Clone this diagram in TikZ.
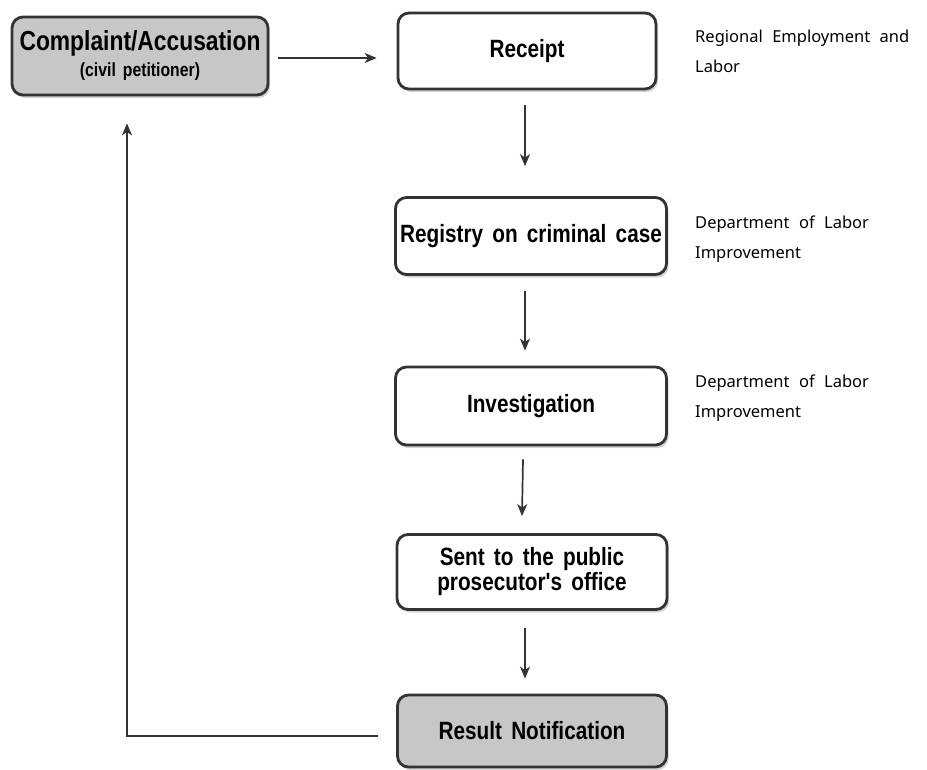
\documentclass[tikz,border=0pt]{standalone}
\usepackage{fontspec}
\setmainfont{Noto Sans}[WordSpace=2.2]
\newfontfamily\boxfont{Liberation Sans}[FakeStretch=0.83, WordSpace=1.6]
\usetikzlibrary{arrows.meta,shadows,positioning}

\begin{document}
\begin{tikzpicture}[x=1pt, y=-1pt,
  every node/.style = {align=center},
  stepbox/.style = {shape=rectangle, rounded corners=11pt, draw=black!80,
    line width=2.8pt, fill=white, minimum height=75pt,
    font=\boxfont\bfseries\fontsize{25}{28}\selectfont,
    drop shadow={shadow xshift=2pt, shadow yshift=-3pt, opacity=0.35}},
  graybox/.style = {stepbox, fill=black!22},
  note/.style = {anchor=north west, align=left, inner sep=0pt,
    font=\fontsize{16.5}{30}\selectfont},
  arr/.style = {draw=black!80, line width=1.7pt,
    -{Stealth[length=12pt, width=10pt, inset=3.5pt]}}]
  \useasboundingbox (0,0) rectangle (927,769);
  % process boxes
  \node[graybox, minimum width=256pt, minimum height=78pt] (comp) at (140,56)
    {{\fontsize{27.5}{30}\selectfont Complaint/Accusation}\\[-2pt]
     {\fontsize{19}{21}\selectfont (civil petitioner)}};
  \node[stepbox, minimum width=258pt, minimum height=76pt] (rec) at (527,51) {Receipt};
  \node[stepbox, minimum width=271pt, minimum height=77pt] (reg) at (531,236)
    {Registry on criminal case};
  \node[stepbox, minimum width=271pt, minimum height=78pt] (inv) at (531,406)
    {Investigation};
  \node[stepbox, minimum width=270pt, minimum height=75pt] (sent) at (532,572)
    {Sent to the public\\[-3pt] prosecutor's office};
  \node[graybox, minimum width=269pt, minimum height=72pt] (res) at (532,731)
    {Result Notification};
  % who handles each step
  \node[note] (lrec) at (695,30) {Regional Employment and\\ Labor};
  \node[note] (lreg) at (695,216) {Department of Labor\\ Improvement};
  \node[note] (linv) at (695,375) {Department of Labor\\ Improvement};
  % connectors
  \draw[arr] ([xshift=9pt, yshift=-2pt]comp.east)
    -- ([xshift=-20pt, yshift=-2pt]comp.east -| rec.west);
  \draw[arr] ([xshift=-2pt, yshift=-15pt]rec.south) -- ([xshift=-6pt, yshift=30pt]reg.north);
  \draw[arr] ([xshift=-6pt, yshift=-15pt]reg.south) -- ([xshift=-6pt, yshift=15pt]inv.north);
  \draw[arr] ([xshift=-8pt, yshift=-13pt]inv.south) -- ([xshift=-10pt, yshift=17pt]sent.north);
  \draw[arr] ([xshift=-7pt, yshift=-17pt]sent.south) -- ([xshift=-7pt, yshift=15pt]res.north);
  \coordinate (back) at ([xshift=-13pt, yshift=-27pt]comp.south);
  \draw[arr] ([xshift=-18pt, yshift=-5pt]res.west) -| (back);
\end{tikzpicture}
\end{document}
